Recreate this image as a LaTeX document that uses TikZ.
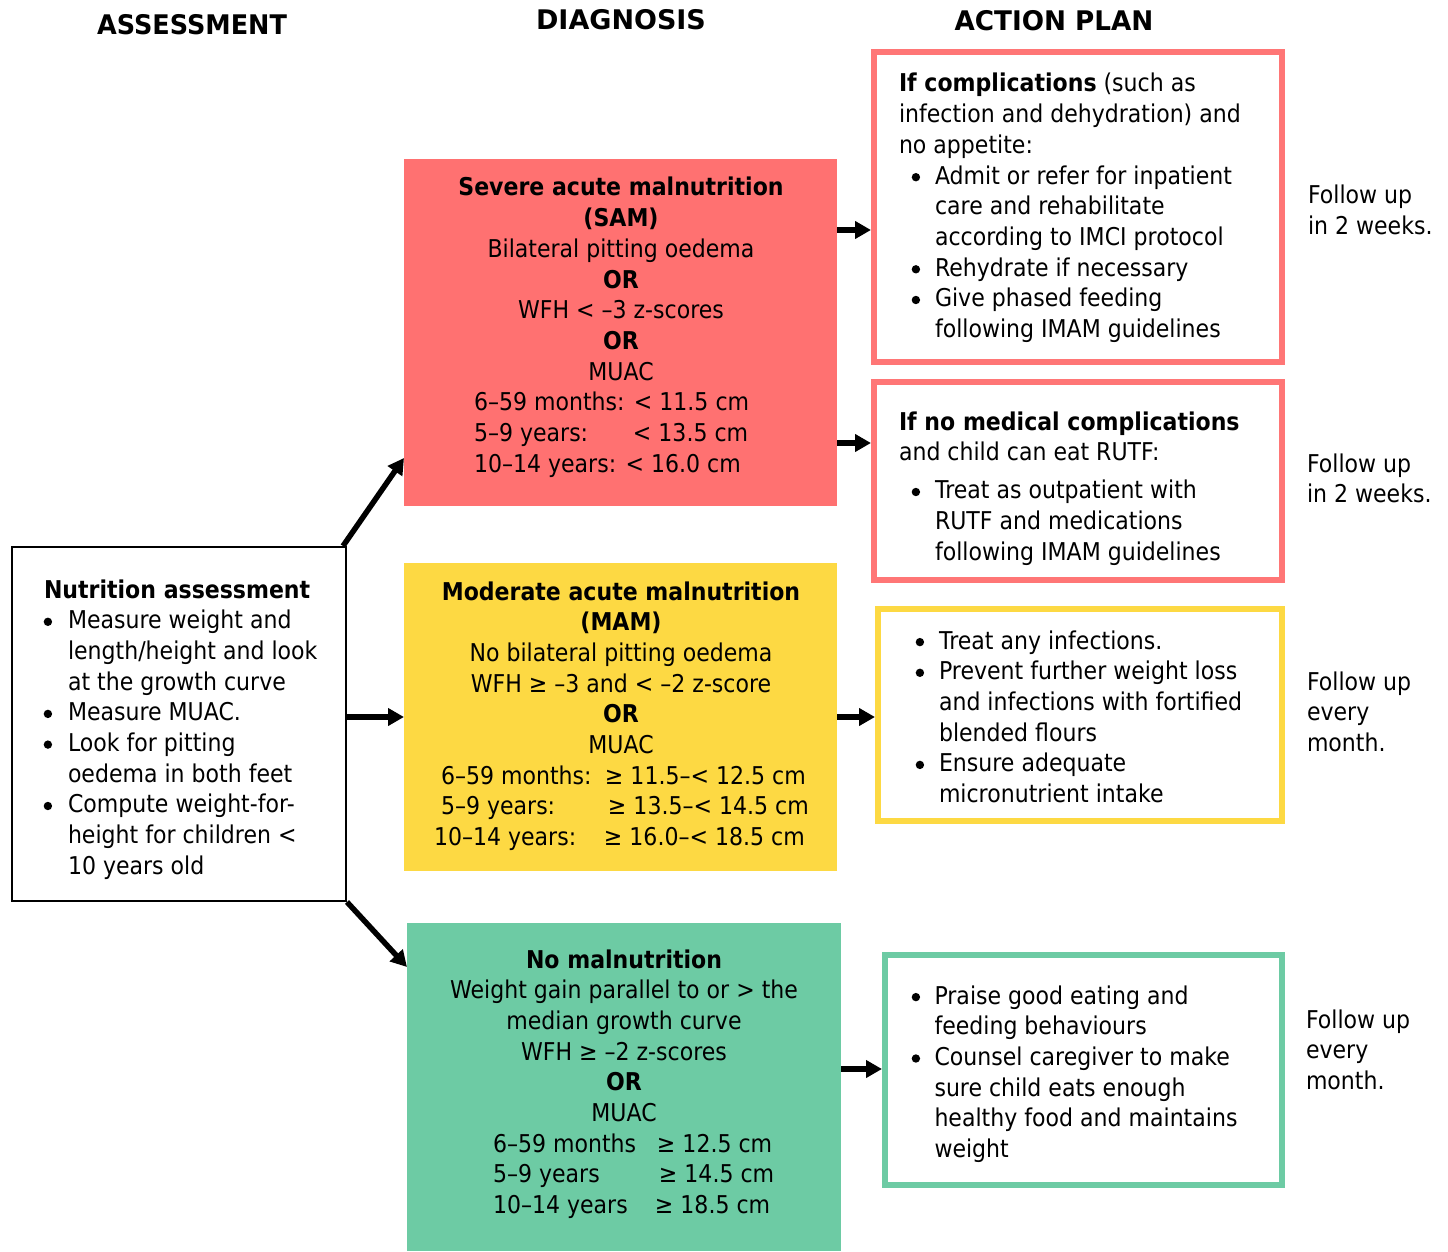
\documentclass[tikz,border=0pt]{standalone}
\usepackage{fontspec}
\setmainfont{DejaVu Sans}[FakeStretch=0.9]
\usepackage{graphicx}
\usetikzlibrary{arrows.meta,calc}
\definecolor{samfill}{HTML}{FF7171}
\definecolor{samline}{HTML}{FF7676}
\definecolor{mamfill}{HTML}{FDD943}
\definecolor{nofill}{HTML}{6DCBA4}
\newcommand\bodyfont{\fontsize{24.5}{30.7}\selectfont}
\newcommand\hdfont{\fontsize{27}{32}\selectfont\bfseries}
\newcommand\bdot{\raisebox{2.7pt}{\tikz\fill (0,0) circle (4.2pt);}}
\newcommand\bu[2]{\makebox[#1][l]{\hspace*{#2}\bdot}}
\newcommand\hdr[1]{\multicolumn{2}{@{}l@{}}{#1}}
\begin{document}
\begin{tikzpicture}[x=1pt,y=-1pt,
  txt/.style={inner sep=0pt,outer sep=0pt,font=\bodyfont},
  hd/.style={inner sep=0pt,outer sep=0pt,font=\hdfont,anchor=base},
  diagbox/.style={draw=none,inner sep=0pt,outer sep=0pt,anchor=north west},
  actbox/.style={draw,line width=6pt,fill=white,inner sep=0pt,anchor=north west},
  conn/.style={line width=5.5pt,-{Triangle[length=16pt,width=17pt]}}]
\useasboundingbox (0,0) rectangle (1448,1252);

% headers
\node[hd] (h1) at (192,35) {\scalebox{1.05}[1]{ASSESSMENT}};
\node[hd] (h2) at (621,30) {\scalebox{1.11}[1]{DIAGNOSIS}};
\node[hd] (h3) at (1054,31) {\scalebox{1.08}[1]{ACTION PLAN}};

% assessment box
\node[draw,line width=2pt,inner sep=0pt,anchor=north west,minimum width=334pt,minimum height=354pt] (assess) at (11,546) {};
\node[txt,anchor=base west] (assesstxt) at (44,598) {\begin{tabular}[t]{@{}l@{}l@{}}
\hdr{\textbf{Nutrition assessment}}\\
\bu{24pt}{-0.3pt} & Measure weight and\\
& length/height and look\\
& at the growth curve\\
\bu{24pt}{-0.3pt} & Measure MUAC.\\
\bu{24pt}{-0.3pt} & Look for pitting\\
& oedema in both feet\\
\bu{24pt}{-0.3pt} & Compute weight-for-\\
& height for children <\\
& 10 years old
\end{tabular}};

% diagnosis boxes
\node[diagbox,fill=samfill,minimum width=433pt,minimum height=347pt] (sam) at (404,159) {};
\node[diagbox,fill=mamfill,minimum width=433pt,minimum height=308pt] (mam) at (404,563) {};
\node[diagbox,fill=nofill,minimum width=434pt,minimum height=328pt] (nomal) at (407,923) {};

\node[txt,anchor=base] (samtxt) at (621,196) {\begin{tabular}[t]{@{}c@{}}
\textbf{Severe acute malnutrition}\\
\textbf{(SAM)}\\
Bilateral pitting oedema\\
\textbf{OR}\\
WFH < –3 z-scores\\
\textbf{OR}\\
MUAC\\
\makebox[294pt][l]{6–59 months: < 11.5 cm}\\
\makebox[294pt][l]{\makebox[159pt][l]{5–9 years:}< 13.5 cm}\\
\makebox[294pt][l]{10–14 years: < 16.0 cm}
\end{tabular}};

\node[txt,anchor=base] (mamtxt) at (621,600) {\begin{tabular}[t]{@{}c@{}}
\textbf{Moderate acute malnutrition}\\
\textbf{(MAM)}\\
No bilateral pitting oedema\\
WFH ≥ –3 and < –2 z-score\\
\textbf{OR}\\
MUAC\\
\makebox[374pt][l]{\hspace*{7pt}\makebox[164pt][l]{6–59 months:}≥ 11.5–< 12.5 cm}\\
\makebox[374pt][l]{\hspace*{7pt}\makebox[167pt][l]{5–9 years:}≥ 13.5–< 14.5 cm}\\
\makebox[374pt][l]{\makebox[170pt][l]{10–14 years:}≥ 16.0–< 18.5 cm}
\end{tabular}};

\node[txt,anchor=base] (nomaltxt) at (624,968) {\begin{tabular}[t]{@{}c@{}}
\textbf{No malnutrition}\\
Weight gain parallel to or > the\\
median growth curve\\
WFH ≥ –2 z-scores\\
\textbf{OR}\\
MUAC\\
\makebox[262pt][l]{\makebox[164pt][l]{6–59 months}≥ 12.5 cm}\\
\makebox[262pt][l]{\makebox[166pt][l]{5–9 years}≥ 14.5 cm}\\
\makebox[262pt][l]{\makebox[162pt][l]{10–14 years}≥ 18.5 cm}
\end{tabular}};

% action boxes
\node[actbox,draw=samline,minimum width=408pt,minimum height=310pt] (act1) at (871,49) {};
\node[actbox,draw=samline,minimum width=408pt,minimum height=198pt] (act2) at (871,379) {};
\node[actbox,draw=mamfill,minimum width=404pt,minimum height=212pt] (act3) at (875,606) {};
\node[actbox,draw=nofill,minimum width=397pt,minimum height=230pt] (act4) at (882,952) {};

\node[txt,anchor=base west] (act1txt) at (899,92) {\begin{tabular}[t]{@{}l@{}l@{}}
\hdr{\textbf{If complications} (such as}\\
\hdr{infection and dehydration) and}\\
\hdr{no appetite:}\\
\bu{36pt}{12.7pt} & Admit or refer for inpatient\\
& care and rehabilitate\\
& according to IMCI protocol\\
\bu{36pt}{12.7pt} & Rehydrate if necessary\\
\bu{36pt}{12.7pt} & Give phased feeding\\
& following IMAM guidelines
\end{tabular}};

\node[txt,anchor=base west] (act2txt) at (899,430) {\begin{tabular}[t]{@{}l@{}l@{}}
\hdr{\textbf{If no medical complications}}\\
\hdr{and child can eat RUTF:}\\[7.5pt]
\bu{36pt}{12.7pt} & Treat as outpatient with\\
& RUTF and medications\\
& following IMAM guidelines
\end{tabular}};

\node[txt,anchor=base west] (act3txt) at (913.5,649) {\begin{tabular}[t]{@{}l@{}l@{}}
\bu{25.5pt}{2.2pt} & Treat any infections.\\
\bu{25.5pt}{2.2pt} & Prevent further weight loss\\
& and infections with fortified\\
& blended flours\\
\bu{25.5pt}{2.2pt} & Ensure adequate\\
& micronutrient intake
\end{tabular}};

\node[txt,anchor=base west] (act4txt) at (909.5,1004) {\begin{tabular}[t]{@{}l@{}l@{}}
\bu{25pt}{2.2pt} & Praise good eating and\\
& feeding behaviours\\
\bu{25pt}{2.2pt} & Counsel caregiver to make\\
& sure child eats enough\\
& healthy food and maintains\\
& weight
\end{tabular}};

% follow up texts
\node[txt,anchor=base west] (fu1) at (1308,204) {\begin{tabular}[t]{@{}l@{}}Follow up\\in 2 weeks.\end{tabular}};
\node[txt,anchor=base west] (fu2) at (1307,472) {\begin{tabular}[t]{@{}l@{}}Follow up\\in 2 weeks.\end{tabular}};
\node[txt,anchor=base west] (fu3) at (1307,690) {\begin{tabular}[t]{@{}l@{}}Follow up\\every\\month.\end{tabular}};
\node[txt,anchor=base west] (fu4) at (1306,1028) {\begin{tabular}[t]{@{}l@{}}Follow up\\every\\month.\end{tabular}};

% connectors
\coordinate (a1s) at ($(assess.north east)+(-4,0)$);
\coordinate (a1e) at ($(sam.south west)+(0,-48)$);
\draw[conn] (a1s) -- (a1e);
\draw[conn] (assess.east |- mam.west) -- (mam.west);
\coordinate (a3e) at ($(nomal.north west)+(0,44)$);
\draw[conn] (assess.south east) -- (a3e);

\coordinate (s1) at ($(sam.north east)+(0,71)$);
\draw[conn] (s1) -- (s1 -| act1.west);
\coordinate (s2) at ($(sam.north east)+(0,284)$);
\draw[conn] (s2) -- (s2 -| act2.west);
\coordinate (m1) at ($(mam.north east)+(0,154)$);
\draw[conn] (m1) -- (m1 -| act3.west);
\coordinate (n1) at ($(nomal.north east)+(0,146)$);
\draw[conn] (n1) -- (n1 -| act4.west);
\end{tikzpicture}
\end{document}
